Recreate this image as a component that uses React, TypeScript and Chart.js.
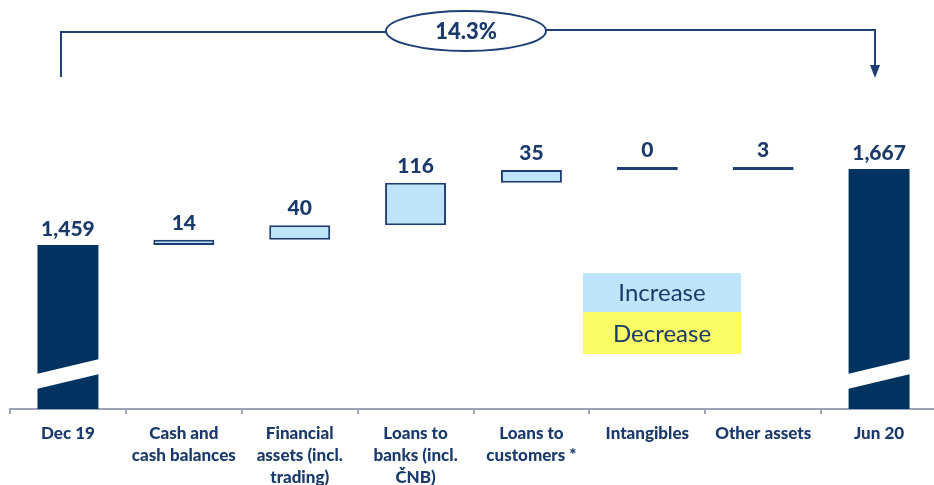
import React, { useEffect, useRef } from "react";
import { Chart, registerables } from "chart.js";

Chart.register(...registerables);

const categories: string[][] = [
  ["Dec 19"],
  ["Cash and", "cash balances"],
  ["Financial", "assets (incl.", "trading)"],
  ["Loans to", "banks (incl.", "ČNB)"],
  ["Loans to", "customers *"],
  ["Intangibles"],
  ["Other assets"],
  ["Jun 20"],
];
const startTotal = 1459;
const endTotal = 1667;
const changes = [14, 40, 116, 35, 0, 3];
const growthLabel = "14.3%";
const legendLabels = ["Increase", "Decrease"];

const NAVY = "#00335F";
const TEXT = "#1B3A6C";
const LINE = "#1F3F74";
const LIGHT = "#BEE4F9";
const YELLOW = "#FCFC66";
const AXIS = "#9EA2B8";
const FONT = "Lato, 'Open Sans', sans-serif";

export default function App() {
  const ref = useRef<HTMLCanvasElement>(null);

  useEffect(() => {
    if (!ref.current) return;
    const n = categories.length;
    const totalsData = categories.map((_, i) =>
      i === 0 ? startTotal : i === n - 1 ? endTotal : null
    );
    let run = startTotal;
    const changeData = categories.map((_, i) => {
      if (i === 0 || i === n - 1) return null;
      const v = changes[i - 1];
      const r = [run, run + v];
      run += v;
      return r;
    });

    const decoPlugin = {
      id: "deco",
      afterDatasetsDraw(chart: any) {
        const ctx = chart.ctx as CanvasRenderingContext2D;
        const area = chart.chartArea;
        ctx.save();
        // axis break bands on total bars
        const m0 = chart.getDatasetMeta(0);
        m0.data.forEach((el: any, i: number) => {
          if (totalsData[i] == null) return;
          const left = el.x - el.width / 2 - 1;
          const right = el.x + el.width / 2 + 1;
          const b = area.bottom;
          ctx.fillStyle = "#FFFFFF";
          ctx.beginPath();
          ctx.moveTo(left, b - 35);
          ctx.lineTo(right, b - 50);
          ctx.lineTo(right, b - 35);
          ctx.lineTo(left, b - 20);
          ctx.closePath();
          ctx.fill();
        });
        // value labels
        ctx.fillStyle = TEXT;
        ctx.font = `900 21px ${FONT}`;
        ctx.textAlign = "center";
        ctx.textBaseline = "middle";
        m0.data.forEach((el: any, i: number) => {
          const v = totalsData[i];
          if (v == null) return;
          const top = Math.min(el.y, el.base);
          ctx.fillText(v.toLocaleString("en-US"), el.x, top - 16);
        });
        const m1 = chart.getDatasetMeta(1);
        m1.data.forEach((el: any, i: number) => {
          if (changeData[i] == null) return;
          const top = Math.min(el.y, el.base);
          ctx.fillText(String(changes[i - 1]), el.x, top - 17);
        });
        // legend boxes
        ctx.fillStyle = LIGHT;
        ctx.fillRect(583, 273, 158, 39);
        ctx.fillStyle = YELLOW;
        ctx.fillRect(583, 312, 158, 42);
        ctx.fillStyle = TEXT;
        ctx.font = `24px ${FONT}`;
        ctx.fillText(legendLabels[0], 662, 293);
        ctx.fillText(legendLabels[1], 662, 334);
        // growth bracket
        ctx.strokeStyle = LINE;
        ctx.lineWidth = 2;
        ctx.beginPath();
        ctx.moveTo(61, 77);
        ctx.lineTo(61, 32);
        ctx.lineTo(386, 32);
        ctx.stroke();
        ctx.beginPath();
        ctx.moveTo(546, 30);
        ctx.lineTo(875, 30);
        ctx.lineTo(875, 67);
        ctx.stroke();
        ctx.fillStyle = LINE;
        ctx.beginPath();
        ctx.moveTo(870, 65);
        ctx.lineTo(880, 65);
        ctx.lineTo(875, 78);
        ctx.closePath();
        ctx.fill();
        ctx.beginPath();
        ctx.ellipse(466, 31, 80, 20, 0, 0, Math.PI * 2);
        ctx.fillStyle = "#FFFFFF";
        ctx.fill();
        ctx.stroke();
        ctx.fillStyle = TEXT;
        ctx.font = `900 22px ${FONT}`;
        ctx.fillText(growthLabel, 466, 32);
        ctx.restore();
      },
    };

    const chart = new Chart(ref.current, {
      type: "bar",
      data: {
        labels: categories,
        datasets: [
          {
            data: totalsData as any,
            backgroundColor: NAVY,
            borderWidth: 0,
            barPercentage: 0.526,
            categoryPercentage: 1,
            grouped: false,
          },
          {
            data: changeData as any,
            backgroundColor: LIGHT,
            borderColor: LINE,
            borderWidth: 2,
            borderSkipped: false,
            minBarLength: 3,
            barPercentage: 0.526,
            categoryPercentage: 1,
            grouped: false,
          },
        ],
      },
      options: {
        animation: false,
        responsive: false,
        maintainAspectRatio: false,
        layout: { padding: { left: 10, right: 3, top: 90, bottom: 0 } },
        plugins: { legend: { display: false }, tooltip: { enabled: false } },
        scales: {
          x: {
            grid: {
              drawOnChartArea: false,
              drawTicks: true,
              tickLength: 5,
              color: AXIS,
              lineWidth: 2,
              offset: true,
            },
            border: { color: AXIS, width: 2 },
            ticks: {
              color: TEXT,
              font: { family: FONT, size: 17, weight: "900", lineHeight: 1.3 },
              padding: 8,
              maxRotation: 0,
              autoSkip: false,
            },
            afterFit: (s: any) => {
              s.height = 76;
            },
          },
          y: { display: false, min: 1010, max: 1883 },
        },
      },
      plugins: [decoPlugin],
    });
    return () => chart.destroy();
  }, []);

  return (
    <div
      style={{
        position: "fixed",
        left: 0,
        top: 0,
        width: 934,
        height: 485,
        overflow: "hidden",
        background: "#FFFFFF",
      }}
    >
      <canvas ref={ref} width={940} height={485} style={{ display: "block" }} />
    </div>
  );
}
